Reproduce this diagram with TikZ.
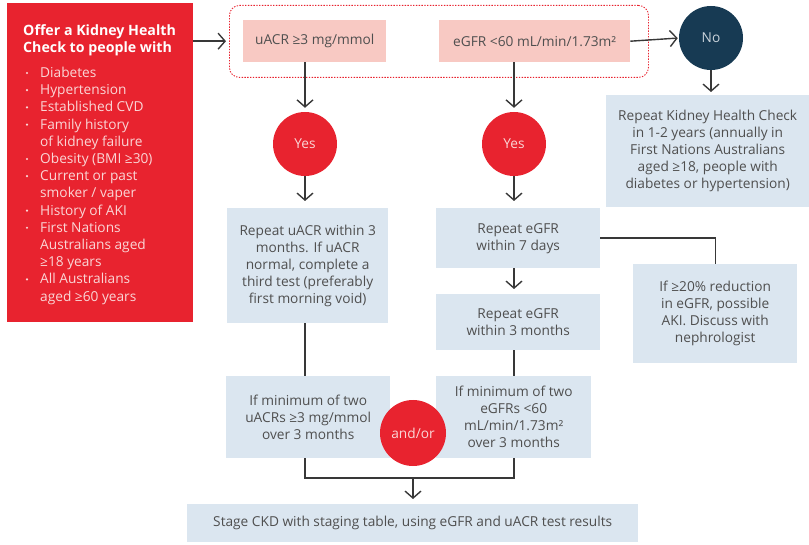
\documentclass[tikz,border=0pt]{standalone}
\usepackage{fontspec}
\setmainfont{Open Sans}
\usetikzlibrary{arrows.meta,positioning,calc}
\definecolor{ckdred}{HTML}{E8232F}
\definecolor{ckdnavy}{HTML}{173A53}
\definecolor{ckdpink}{HTML}{F8C9C3}
\definecolor{ckdblue}{HTML}{DBE6F0}
\definecolor{ckdtext}{HTML}{4F4F4F}
\definecolor{ckdline}{HTML}{383838}
\definecolor{ckdlist}{HTML}{FAD6D6}
\begin{document}
\begin{tikzpicture}[x=1pt,y=-1pt,
		font=\fontsize{13.7}{17}\selectfont,
		box/.style={fill=ckdblue,text=ckdtext,align=center,inner sep=0pt,anchor=north west},
		test/.style={fill=ckdpink,text=ckdtext,align=center,inner sep=0pt,anchor=north west},
		yesno/.style={circle,fill=ckdred,text=ckdlist,inner sep=0pt,minimum size=64pt},
		line/.style={draw=ckdline,line width=1.4pt},
		arr/.style={line,-{Straight Barb[length=7pt,width=16pt]}}]
		\useasboundingbox (0,0) rectangle (809,545);
		
		% Eligibility panel
		\node[fill=ckdred,anchor=north west,minimum width=186pt,minimum height=319pt,inner sep=0pt] (redbox) at (7,3) {};
		\node[anchor=base west,text=white,align=left,inner sep=0pt,font=\bfseries\fontsize{14.2}{17}\selectfont] (title) at (23,53) {Offer a Kidney Health\\Check to people with};
		\foreach \b/\txt [count=\i] in {1/Diabetes, 1/Hypertension, 1/Established CVD, 1/Family history, 0/of kidney failure, 1/Obesity (BMI ≥30), 1/Current or past, 0/{smoker / vaper}, 1/History of AKI, 1/First Nations, 0/Australians aged, 0/≥18 years, 1/All Australians, 0/aged ≥60 years}
		{
			\node[anchor=base west,text=ckdlist,inner sep=0pt] (l\i) at (40,{77.5+17.2*(\i-1)}) {\txt};
			\ifnum\b=1 \fill[ckdlist] (27,{73+17.2*(\i-1)}) circle (1.2); \fi
		}
		
		% Initial tests
		\node[draw=ckdred,dash pattern=on 1.4pt off 1.4pt,line width=0.9pt,rounded corners=10pt,anchor=north west,minimum width=419pt,minimum height=72pt,inner sep=0pt] (grp) at (229,5) {};
		\node[test,minimum width=143pt,minimum height=42pt] (uacr) at (243,20) {uACR ≥3 mg/mmol};
		\node[test,minimum width=191pt,minimum height=42pt] (egfr) at (439,20) {eGFR <60 mL/min/1.73m²};
		
		% Decisions
		\node[yesno,fill=ckdnavy,text=ckdblue!80!gray] (no) at (711,38) {No};
		\node[yesno] (yes1) at (305,144) {Yes};
		\node[yesno] (yes2) at (514,144) {Yes};
		
		% Follow-up boxes
		\node[box,minimum width=203pt,minimum height=112pt] (check) at (606,95) {Repeat Kidney Health Check\\in 1-2 years (annually in\\First Nations Australians\\aged ≥18, people with\\diabetes or hypertension)};
		\node[box,minimum width=161pt,minimum height=115pt] (ruacr) at (227,208) {Repeat uACR within 3\\months. If uACR\\normal, complete a\\third test (preferably\\first morning void)};
		\node[box,minimum width=164pt,minimum height=60pt] (regfr7) at (436,208) {Repeat eGFR\\within 7 days};
		\node[box,minimum width=164pt,minimum height=56pt] (regfr3) at (436,294) {Repeat eGFR\\within 3 months};
		\node[box,minimum width=164pt,minimum height=99pt] (aki) at (633,264) {If ≥20\% reduction\\in eGFR, possible\\AKI. Discuss with\\nephrologist};
		\node[box,minimum width=164pt,minimum height=82pt] (minu) at (226,376) {If minimum of two\\uACRs ≥3 mg/mmol\\over 3 months};
		\node[box,minimum width=155pt,minimum height=82pt] (mine) at (436,376) {If minimum of two\\eGFRs <60\\mL/min/1.73m²\\over 3 months};
		\node[box,minimum width=451pt,minimum height=38pt] (stage) at (187,504) {Stage CKD with staging table, using eGFR and uACR test results};
		\node[yesno,minimum size=66pt] (andor) at (413,433) {and/or};
		\coordinate (jn) at (413,478);
		
		% Connectors
		\draw[arr] (redbox.east |- uacr.west) -- ([xshift=-3pt]grp.west |- uacr.west);
		\draw[arr,shorten >=1pt] (egfr.east) -- (no.west);
		\draw[arr,shorten >=3pt] (no.south) -- (check.north -| no);
		\draw[arr,shorten >=4pt] (uacr.south -| yes1) -- (yes1.north);
		\draw[arr,shorten >=4pt] (egfr.south -| yes2) -- (yes2.north);
		\draw[arr,shorten >=7pt] (yes1.south) -- (ruacr.north -| yes1);
		\draw[arr,shorten >=7pt] (yes2.south) -- (regfr7.north -| yes2);
		\draw[arr,shorten >=5pt] (regfr7.south -| yes2) -- (regfr3.north -| yes2);
		\draw[line] (regfr7.east) -| (aki.north);
		\draw[line] (ruacr.south -| yes1) -- (minu.north -| yes1);
		\draw[line] (regfr3.south -| yes2) -- (mine.north -| yes2);
		\draw[line] (minu.south -| yes1) |- (jn) -| (mine.south -| yes2);
		\draw[arr,shorten >=5pt] (jn) -- (stage.north -| jn);
	\end{tikzpicture}
\end{document}
